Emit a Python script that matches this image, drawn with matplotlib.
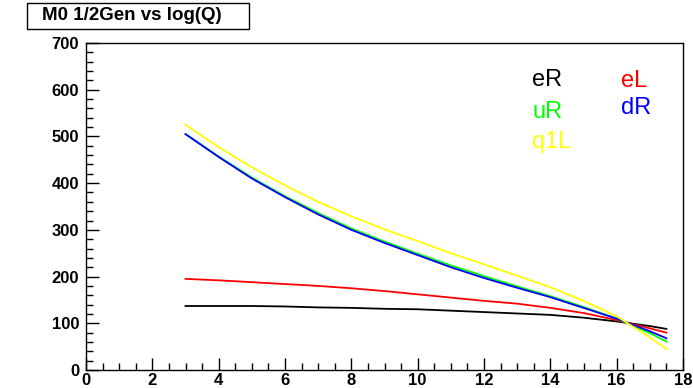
import matplotlib.pyplot as plt
from matplotlib.patches import Rectangle
from matplotlib.ticker import MultipleLocator

plt.rcParams['font.family'] = ['Liberation Sans', 'DejaVu Sans']

# log(Q) sample points
logq = [3, 4, 5, 6, 7, 8, 9, 10, 11, 12, 13, 14, 15, 16, 17, 17.5]

eR  = [137, 137, 137, 136, 134, 133, 131, 130, 127, 124, 121, 118, 112, 104, 94, 88]
eL  = [195, 192, 188, 184, 180, 175, 169, 162, 155, 148, 142, 133, 122, 107, 89, 80]
uR  = [505, 457, 412, 372, 336, 303, 275, 249, 224, 201, 179, 158, 135, 110, 79, 61]
dR  = [505, 456, 410, 370, 333, 300, 272, 246, 220, 197, 176, 156, 133, 110, 83, 68]
q1L = [525, 477, 434, 395, 360, 329, 301, 276, 250, 226, 202, 177, 148, 115, 70, 45]

series = [("eR", eR, "black"), ("eL", eL, "#ff0000"), ("uR", uR, "#00ff00"),
          ("dR", dR, "#0000ff"), ("q1L", q1L, "#ffff00")]

# legend text positions (data coords)
labels = {"eR": (13.45, 621), "eL": (16.13, 619), "uR": (13.45, 552),
          "dR": (16.13, 561), "q1L": (13.45, 488)}

fig = plt.figure(figsize=(6.93, 3.88), dpi=100)
ax = fig.add_axes([86 / 693, 18 / 388, 597 / 693, 327 / 388])

for name, vals, col in series:
    ax.plot(logq, vals, color=col, lw=1.3)
    x, y = labels[name]
    ax.text(x, y, name, color=col, fontsize=17, va='center', ha='left')

ax.set_xlim(0, 18)
ax.set_ylim(0, 700)
ax.xaxis.set_major_locator(MultipleLocator(2))
ax.xaxis.set_minor_locator(MultipleLocator(0.5))
ax.yaxis.set_major_locator(MultipleLocator(100))
ax.yaxis.set_minor_locator(MultipleLocator(20))
ax.tick_params(which='both', direction='in', top=False, right=False,
               labelsize=12, width=1)
ax.tick_params(axis='x', pad=2)
ax.tick_params(axis='y', pad=5)
ax.tick_params(which='major', length=9)
ax.tick_params(which='minor', length=5)
for lab in ax.get_xticklabels() + ax.get_yticklabels():
    lab.set_fontweight('bold')
for sp in ax.spines.values():
    sp.set_linewidth(1)

# title box
fig.patches.append(Rectangle((27 / 693, 1 - 29 / 388), 222 / 693, 26 / 388,
                             transform=fig.transFigure, fill=False,
                             edgecolor='black', lw=1))
fig.text(132 / 693, 1 - 16 / 388, "M0 1/2Gen vs log(Q)", ha='center',
         va='center', fontsize=13.5, fontweight='bold')

fig.savefig("out.png", dpi=100)
